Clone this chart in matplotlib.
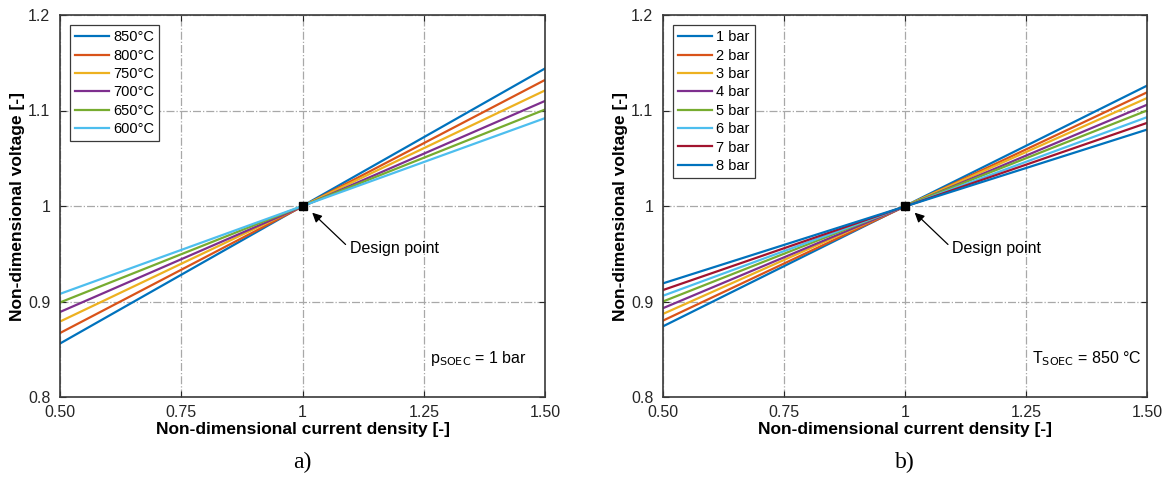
import numpy as np
import matplotlib.pyplot as plt

plt.rcParams['font.family'] = ['Liberation Sans', 'DejaVu Sans']

# non-dimensional current density range
j = [0.5, 1.5]

# temperature sweep, p = 1 bar: voltage at j = 0.5 and j = 1.5
temp_labels = ['850°C', '800°C', '750°C', '700°C', '650°C', '600°C']
temp_v_low = [0.856, 0.867, 0.879, 0.889, 0.899, 0.908]
temp_v_high = [1.144, 1.132, 1.121, 1.110, 1.101, 1.092]

# pressure sweep, T = 850 °C
pres_labels = ['1 bar', '2 bar', '3 bar', '4 bar', '5 bar', '6 bar', '7 bar', '8 bar']
pres_v_low = [0.874, 0.880, 0.887, 0.893, 0.900, 0.906, 0.912, 0.919]
pres_v_high = [1.126, 1.119, 1.113, 1.106, 1.100, 1.093, 1.087, 1.080]

colors = ['#0072BD', '#D95319', '#EDB120', '#7E2F8E', '#77AC30', '#4DBEEE', '#A2142F', '#0072BD']

fig = plt.figure(figsize=(11.68, 4.79), dpi=100)
ax1 = fig.add_axes([60/1168, 1-397/479, 485/1168, 382/479])
ax2 = fig.add_axes([663/1168, 1-397/479, 484/1168, 382/479])


def draw_panel(ax, labels, v_low, v_high, note):
    for i, lab in enumerate(labels):
        ax.plot(j, [v_low[i], v_high[i]], color=colors[i], lw=1.6, label=lab)
    ax.plot([1], [1], 's', color='black', ms=6, zorder=5)
    ax.annotate('Design point', xy=(1.02, 0.993), xytext=(1.098, 0.955),
                fontsize=11.5, va='center', ha='left',
                arrowprops=dict(arrowstyle='-|>', color='black', lw=0.9,
                                mutation_scale=14, shrinkA=0, shrinkB=0,
                                relpos=(-0.05, 0.8)))
    ax.text(1.262, 0.84, note, fontsize=11.5, va='center', ha='left')
    ax.set_xlim(0.5, 1.5)
    ax.set_ylim(0.8, 1.2)
    ax.set_xticks([0.5, 0.75, 1, 1.25, 1.5])
    ax.set_xticklabels(['0.50', '0.75', '1', '1.25', '1.50'])
    ax.set_yticks([0.8, 0.9, 1, 1.1, 1.2])
    ax.set_yticklabels(['0.8', '0.9', '1', '1.1', '1.2'])
    ax.tick_params(direction='in', top=True, right=True, labelsize=11.5,
                   color='#262626', labelcolor='#262626', length=4)
    ax.tick_params(axis='x', pad=6)
    ax.tick_params(axis='y', pad=7)
    ax.grid(True, linestyle='-.', color='#a8a8a8', lw=0.9)
    for s in ax.spines.values():
        s.set_color('#3a3a3a')
        s.set_linewidth(1.2)
    ax.set_xlabel('Non-dimensional current density [-]', fontsize=12.5,
                  fontweight='bold', labelpad=1)
    ax.set_ylabel('Non-dimensional voltage [-]', fontsize=12.5,
                  fontweight='bold', labelpad=2)
    leg = ax.legend(loc='upper left', fontsize=10.5, handlelength=2.3,
                    handletextpad=0.3, borderaxespad=0.7, labelspacing=0.3,
                    fancybox=False, framealpha=1, borderpad=0.35)
    leg.get_frame().set_edgecolor('#3a3a3a')
    leg.get_frame().set_linewidth(0.9)


draw_panel(ax1, temp_labels, temp_v_low, temp_v_high, r'p$_{\mathrm{SOEC}}$ = 1 bar')
draw_panel(ax2, pres_labels, pres_v_low, pres_v_high, r'T$_{\mathrm{SOEC}}$ = 850 °C')

fig.text(302/1168, 1-462/479, 'a)', fontsize=17, family='Liberation Serif', ha='center', va='center')
fig.text(905/1168, 1-462/479, 'b)', fontsize=17, family='Liberation Serif', ha='center', va='center')

fig.savefig('out.png', dpi=100)
